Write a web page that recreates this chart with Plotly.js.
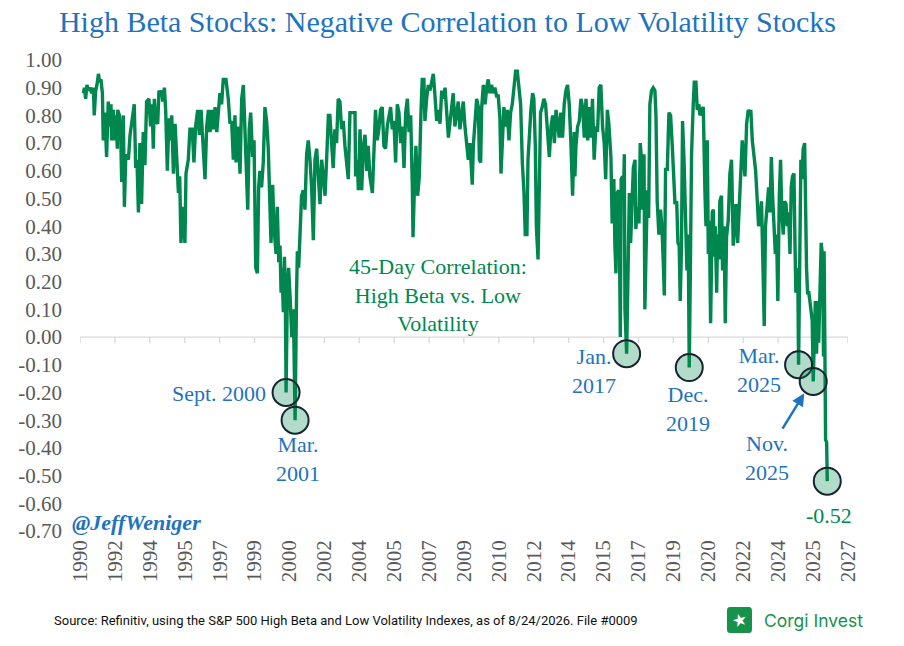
<!DOCTYPE html>
<html>
<head>
<meta charset="utf-8">
<script src="https://cdn.plot.ly/plotly-3.0.1.min.js"></script>
<style>html,body{margin:0;padding:0;background:#fff;}#chart{width:904px;height:646px;}</style>
</head>
<body>
<div id="chart"></div>
<script>
// ---- DATA (dates in decimal years) ----
const dates = [
1991.06,1991.11,1991.17,1991.23,1991.30,1991.38,1991.46,1991.54,1991.58,1991.65,
1991.71,1991.78,1991.84,1991.90,1991.97,1992.01,1992.09,1992.17,1992.25,1992.33,
1992.38,1992.41,1992.49,1992.57,1992.63,1992.68,1992.70,1992.78,1992.84,1992.89,
1992.97,1993.02,1993.08,1993.13,1993.21,1993.29,1993.40,1993.49,1993.56,1993.62,
1993.69,1993.76,1993.84,1993.92,1994.00,1994.08,1994.19,1994.27,1994.34,1994.40,
1994.45,1994.51,1994.61,1994.67,1994.74,1994.80,1994.85,1994.93,1994.99,1995.07,
1995.15,1995.23,1995.28,1995.36,1995.44,1995.52,1995.60,1995.66,1995.72,1995.80,
1995.91,1995.96,1996.07,1996.15,1996.26,1996.34,1996.42,1996.52,1996.60,1996.68,
1996.79,1996.87,1996.95,1997.03,1997.11,1997.19,1997.27,1997.35,1997.43,1997.50,
1997.58,1997.66,1997.74,1997.87,1997.98,1998.06,1998.14,1998.22,1998.30,1998.35,
1998.46,1998.54,1998.62,1998.70,1998.78,1998.86,1998.91,1998.98,1999.05,1999.14,
1999.21,1999.29,1999.37,1999.43,1999.49,1999.57,1999.65,1999.73,1999.81,1999.89,
1999.97,2000.02,2000.10,2000.16,2000.26,2000.32,2000.39,2000.45,2000.50,2000.54,
2000.61,2000.66,2000.70,2000.74,2000.80,2000.86,2000.93,2001.01,2001.09,2001.17,
2001.24,2001.28,2001.34,2001.40,2001.48,2001.56,2001.64,2001.72,2001.80,2001.88,
2001.96,2002.04,2002.12,2002.20,2002.28,2002.36,2002.44,2002.52,2002.60,
2002.68,2002.76,2002.83,2002.91,2002.99,2003.07,2003.15,2003.23,2003.31,
2003.39,2003.47,2003.55,2003.63,2003.71,2003.79,2003.95,2004.03,2004.06,2004.14,
2004.19,2004.27,2004.35,2004.43,2004.51,2004.59,2004.66,2004.74,2004.86,2004.94,
2005.01,2005.09,2005.17,2005.25,2005.33,2005.41,2005.49,2005.57,2005.65,2005.73,
2005.81,2005.89,2005.97,2006.05,2006.13,2006.21,2006.29,2006.37,2006.45,2006.53,
2006.61,2006.69,2006.77,2006.80,2006.86,2006.94,2007.02,2007.10,2007.18,2007.24,
2007.32,2007.37,2007.45,2007.53,2007.61,2007.69,2007.77,2007.85,2007.93,2008.01,
2008.09,2008.17,2008.25,2008.33,2008.41,2008.49,2008.56,
2008.72,2008.80,2008.88,2008.96,2009.04,2009.12,2009.20,2009.28,2009.36,2009.44,
2009.52,2009.57,2009.63,2009.68,2009.76,2009.84,2009.92,2009.97,2010.03,2010.08,
2010.16,2010.24,2010.32,2010.39,2010.47,2010.55,2010.63,2010.71,2010.79,2010.87,
2010.95,2011.00,2011.06,2011.14,2011.22,2011.30,2011.38,2011.46,2011.54,2011.62,
2011.70,2011.78,2011.86,2011.94,2012.02,2012.10,2012.16,2012.24,2012.29,2012.35,
2012.43,2012.51,2012.57,2012.64,2012.69,2012.77,2012.83,2012.89,2012.97,2013.05,
2013.13,2013.21,2013.31,2013.39,2013.47,2013.55,2013.63,2013.71,2013.78,2013.86,
2013.94,2014.02,2014.10,2014.18,2014.26,2014.34,2014.42,2014.50,
2014.53,2014.58,2014.66,2014.74,2014.82,2014.90,2014.98,2015.06,2015.14,2015.22,
2015.30,2015.37,2015.45,2015.53,2015.61,2015.69,2015.77,2015.85,2015.93,2016.00,
2016.08,2016.15,2016.25,2016.31,2016.39,2016.44,2016.49,2016.55,2016.62,2016.66,
2016.70,2016.74,2016.81,2016.86,2016.89,2016.92,2017.00,2017.08,2017.13,2017.19,
2017.24,2017.32,2017.40,2017.44,2017.52,2017.59,2017.65,2017.71,2017.76,2017.83,
2017.87,2017.92,2017.99,2018.05,2018.11,2018.19,2018.27,2018.35,2018.40,2018.46,
2018.54,2018.62,2018.69,2018.75,2018.80,2018.86,2018.94,2019.02,2019.10,2019.18,
2019.24,2019.31,2019.39,2019.45,2019.51,2019.56,2019.62,2019.67,2019.74,2019.82,
2019.88,2019.94,2019.99,2020.05,2020.10,2020.18,2020.23,2020.31,2020.37,2020.45,
2020.50,2020.58,2020.66,2020.74,2020.79,2020.85,2020.90,2020.95,2021.01,2021.09,
2021.14,2021.18,2021.23,2021.30,2021.34,2021.41,2021.45,2021.53,2021.58,2021.65,
2021.71,2021.77,2021.85,2021.93,2022.01,2022.09,2022.14,2022.22,2022.30,2022.38,
2022.46,2022.52,2022.57,2022.65,2022.73,2022.81,2022.89,2022.93,2023.00,2023.08,
2023.16,2023.24,2023.30,2023.36,2023.44,2023.52,2023.57,2023.63,2023.70,2023.78,
2023.84,2023.91,2023.97,2024.03,2024.10,2024.16,2024.22,2024.29,2024.35,2024.41,
2024.48,2024.54,2024.61,2024.67,2024.73,2024.80,2024.86,2024.92,2024.99,2025.04,
2025.08,2025.13,2025.18,2025.21,2025.27,2025.32,2025.37,2025.43,2025.50,2025.54,
2025.59,2025.64,2025.70,2025.75,2025.80,2025.86,2025.91,2025.96,2026.01,2026.07,
2026.12,2026.17,2026.23,2026.29,2026.36,2026.40,2026.43,2026.48,2026.50,2026.55,
2026.58
];
const corr = [
0.88,0.90,0.86,0.91,0.89,0.90,0.88,0.90,0.80,0.89,
0.91,0.95,0.92,0.93,0.88,0.71,0.81,0.65,0.85,0.76,
0.84,0.71,0.82,0.71,0.80,0.68,0.82,0.80,0.74,0.56,
0.80,0.47,0.64,0.66,0.64,0.73,0.79,0.84,0.61,0.64,
0.45,0.70,0.48,0.74,0.62,0.85,0.86,0.76,0.84,0.68,
0.86,0.78,0.77,0.89,0.87,0.89,0.85,0.90,0.82,0.60,
0.79,0.71,0.80,0.59,0.77,0.61,0.52,0.58,0.34,0.47,
0.34,0.59,0.64,0.75,0.75,0.63,0.76,0.82,0.73,0.82,
0.68,0.57,0.76,0.82,0.74,0.82,0.75,0.83,0.74,0.82,
0.88,0.84,0.93,0.93,0.86,0.77,0.78,0.64,0.80,0.63,
0.76,0.59,0.86,0.91,0.70,0.51,0.46,0.75,0.81,0.65,
0.71,0.25,0.23,0.54,0.60,0.54,0.63,0.83,0.78,0.68,
0.51,0.34,0.55,0.40,0.30,0.47,0.27,0.33,0.16,0.25,
0.09,0.29,0.18,-0.20,0.16,0.25,0.15,0.00,0.10,-0.30,
0.16,0.31,0.25,0.40,0.51,0.53,0.46,0.66,0.71,0.64,
0.54,0.35,0.64,0.68,0.59,0.48,0.64,0.58,0.51,
0.65,0.80,0.80,0.70,0.61,0.75,0.70,0.86,0.85,
0.75,0.78,0.69,0.64,0.57,0.81,0.81,0.81,0.58,0.64,
0.53,0.75,0.53,0.69,0.73,0.60,0.69,0.58,0.52,0.69,
0.82,0.71,0.75,0.82,0.83,0.69,0.68,0.76,0.79,0.83,
0.75,0.78,0.63,0.84,0.81,0.70,0.76,0.61,0.81,0.86,
0.74,0.80,0.54,0.36,0.52,0.69,0.51,0.58,0.81,0.93,
0.93,0.78,0.86,0.91,0.89,0.92,0.95,0.87,0.78,0.82,
0.77,0.89,0.86,0.90,0.81,0.72,0.77,
0.88,0.76,0.80,0.85,0.75,0.81,0.85,0.76,0.71,0.64,
0.70,0.60,0.55,0.69,0.76,0.86,0.83,0.64,0.63,0.83,
0.91,0.84,0.90,0.93,0.88,0.91,0.88,0.90,0.87,0.87,
0.79,0.59,0.69,0.83,0.76,0.82,0.71,0.81,0.84,0.89,
0.96,0.96,0.89,0.84,0.63,0.52,0.37,0.37,0.64,0.74,
0.82,0.88,0.86,0.69,0.40,0.28,0.49,0.81,0.83,0.86,
0.84,0.76,0.65,0.76,0.80,0.70,0.82,0.77,0.72,0.81,
0.72,0.84,0.89,0.91,0.84,0.70,0.51,0.74,
0.58,0.69,0.76,0.78,0.86,0.83,0.72,0.86,0.71,0.83,
0.72,0.86,0.64,0.76,0.74,0.90,0.91,0.76,0.70,0.57,
0.82,0.77,0.65,0.41,0.57,0.33,0.23,0.52,0.53,0.31,
0.00,0.57,0.58,0.54,0.66,0.10,-0.06,0.29,0.52,0.34,
0.46,0.61,0.64,0.39,0.47,0.41,0.70,0.64,0.46,0.66,
0.10,0.35,0.53,0.43,0.84,0.89,0.90,0.89,0.80,0.49,
0.37,0.46,0.39,0.27,0.15,0.61,0.60,0.81,0.80,0.69,
0.57,0.48,0.49,0.34,0.33,0.13,0.33,0.78,0.64,0.37,
0.24,0.37,-0.11,0.29,0.66,0.84,0.92,0.92,0.82,0.84,
0.80,0.82,0.83,0.52,0.40,0.71,0.30,0.42,0.05,0.45,
0.46,0.29,0.40,0.16,0.37,0.28,0.49,0.51,0.24,0.40,
0.05,0.36,0.42,0.59,0.64,0.33,0.40,0.48,0.34,0.46,
0.58,0.71,0.66,0.58,0.77,0.82,0.81,0.82,0.71,0.66,
0.60,0.49,0.40,0.42,0.49,0.22,0.04,0.40,0.48,0.54,
0.45,0.65,0.51,0.40,0.30,0.37,0.13,0.51,0.64,0.45,
0.37,0.49,0.48,0.40,0.45,0.30,0.54,0.58,0.59,0.33,
0.16,0.25,0.17,-0.10,0.33,0.64,0.57,0.68,0.70,0.36,
0.25,0.16,0.16,0.13,0.09,0.06,-0.16,-0.01,0.13,-0.06,
0.13,-0.02,0.16,0.34,0.29,-0.07,0.31,0.00,-0.37,-0.38,
-0.52
];
// highlighted lows (dates of circled points)
const highlightDates = [2000.74, 2001.17, 2017.00, 2019.99, 2025.21, 2025.91, 2026.58];
// x-axis ticks (Excel-style date axis)
const xTickVals = [1990.90,1992.57,1994.23,1995.90,1997.57,1999.23,2000.90,2002.57,2004.23,2005.90,2007.57,2009.23,2010.90,2012.57,2014.23,2015.90,2017.57,2019.23,2020.90,2022.57,2024.23,2025.90,2027.57];
const xTickText = ['1990','1992','1994','1995','1997','1999','2000','2002','2004','2005','2007','2009','2010','2012','2014','2015','2017','2019','2020','2022','2024','2025','2027'];
const yTickVals = [1.0,0.9,0.8,0.7,0.6,0.5,0.4,0.3,0.2,0.1,0.0,-0.1,-0.2,-0.3,-0.4,-0.5,-0.6,-0.7];
const yTickText = ['1.00','0.90','0.80','0.70','0.60','0.50','0.40','0.30','0.20','0.10','0.00','-0.10','-0.20','-0.30','-0.40','-0.50','-0.60','-0.70'];

// ---- build ----
const hy = highlightDates.map(d => {
  let best = 0, bd = Infinity;
  dates.forEach((x, i) => { const dd = Math.abs(x - d); if (dd < bd) { bd = dd; best = i; } });
  return corr[best];
});
const hx = highlightDates.slice();
const lastVal = hy[hy.length - 1];

const GREEN = '#00874F', BLUE = '#1E73BE', GRAY = '#595959', AXIS = '#d9d9d9';
const SERIF = 'Liberation Serif, Times New Roman, serif';
const X0 = xTickVals[0], X1 = xTickVals[xTickVals.length - 1];

const traces = [
  { x: dates, y: corr, type: 'scatter', mode: 'lines', line: { color: GREEN, width: 3.4 }, hoverinfo: 'skip', showlegend: false },
  { x: hx, y: hy, type: 'scatter', mode: 'markers', cliponaxis: false, showlegend: false, hoverinfo: 'skip',
    marker: { size: 27, color: 'rgba(0,135,79,0.30)', line: { color: '#16242f', width: 2 } } }
];

const bf = (c, s) => ({ family: SERIF, size: s || 22, color: c });
const annotations = [
  { x: 1999.88, y: -0.202, xref: 'x', yref: 'y', text: 'Sept. 2000', showarrow: false, xanchor: 'right', yanchor: 'middle', font: bf(BLUE) },
  { x: 2001.31, y: -0.44, xref: 'x', yref: 'y', text: 'Mar.<br>2001', showarrow: false, xanchor: 'center', yanchor: 'middle', font: bf(BLUE) },
  { x: 2015.44, y: -0.123, xref: 'x', yref: 'y', text: 'Jan.<br>2017', showarrow: false, xanchor: 'center', yanchor: 'middle', font: bf(BLUE) },
  { x: 2019.93, y: -0.26, xref: 'x', yref: 'y', text: 'Dec.<br>2019', showarrow: false, xanchor: 'center', yanchor: 'middle', font: bf(BLUE) },
  { x: 2023.32, y: -0.119, xref: 'x', yref: 'y', text: 'Mar.<br>2025', showarrow: false, xanchor: 'center', yanchor: 'middle', font: bf(BLUE) },
  { x: 2023.70, y: -0.435, xref: 'x', yref: 'y', text: 'Nov.<br>2025', showarrow: false, xanchor: 'center', yanchor: 'middle', font: bf(BLUE) },
  { x: 2025.48, y: -0.203, ax: 2024.40, ay: -0.336, xref: 'x', yref: 'y', axref: 'x', ayref: 'y', text: '', showarrow: true,
    arrowhead: 2, arrowsize: 1, arrowwidth: 2.5, arrowcolor: BLUE, standoff: 0 },
  { x: 2026.66, y: -0.643, xref: 'x', yref: 'y', text: lastVal.toFixed(2), showarrow: false, xanchor: 'center', yanchor: 'middle', font: bf(GREEN) },
  { x: 2007.99, y: 0.152, xref: 'x', yref: 'y', text: '45-Day Correlation:<br>High Beta vs. Low<br>Volatility', showarrow: false, xanchor: 'center', yanchor: 'middle', align: 'center', font: bf(GREEN) },
  { x: -0.013, y: 0.017, xref: 'paper', yref: 'paper', text: '<b><i>@JeffWeniger</i></b>', showarrow: false, xanchor: 'left', yanchor: 'middle', font: bf(BLUE, 22) },
  { x: -0.0365, y: -0.191, xref: 'paper', yref: 'paper', text: 'Source: Refinitiv, using the S&amp;P 500 High Beta and Low Volatility Indexes, as of 8/24/2026. File #0009',
    showarrow: false, xanchor: 'left', yanchor: 'middle', font: { family: 'Roboto, Arial, sans-serif', size: 13, color: '#111111' } },
  { x: 0.888, y: -0.189, xref: 'paper', yref: 'paper', text: 'Corgi Invest', showarrow: false, xanchor: 'left', yanchor: 'middle',
    font: { family: 'Inter, Roboto, sans-serif', size: 17.5, color: '#16924A' } },
  { x: 0.8587, y: -0.189, xref: 'paper', yref: 'paper', text: '★', showarrow: false, xanchor: 'center', yanchor: 'middle', textangle: -15,
    font: { family: 'DejaVu Sans', size: 17, color: '#ffffff' } }
];

const shapes = [
  // axis line crossing at 0
  { type: 'line', xref: 'x', yref: 'y', x0: X0, x1: X1, y0: 0, y1: 0, line: { color: AXIS, width: 1.3 }, layer: 'below' },
  { type: 'path', xref: 'paper', yref: 'paper', fillcolor: '#16924A', line: { width: 0 },
    path: 'M 0.8464 -0.2166 L 0.8710 -0.2166 Q 0.8750 -0.2166 0.8750 -0.2081 L 0.8750 -0.1699 Q 0.8750 -0.1614 0.8710 -0.1614 L 0.8464 -0.1614 Q 0.8424 -0.1614 0.8424 -0.1699 L 0.8424 -0.2081 Q 0.8424 -0.2166 0.8464 -0.2166 Z' }
];
// tick marks hanging below the zero line
xTickVals.forEach(v => shapes.push({ type: 'line', xref: 'x', yref: 'y', x0: v, x1: v, y0: 0, y1: -0.022, line: { color: AXIS, width: 1.3 }, layer: 'below' }));

const layout = {
  width: 904, height: 646,
  margin: { l: 80, r: 56, t: 60, b: 115 },
  paper_bgcolor: '#ffffff', plot_bgcolor: '#ffffff',
  showlegend: false,
  title: { text: 'High Beta Stocks: Negative Correlation to Low Volatility Stocks', xref: 'container', yref: 'container',
    x: 0.495, y: 0.966, xanchor: 'center', yanchor: 'middle', font: { family: SERIF, size: 30, color: BLUE } },
  xaxis: { range: [X0, X1], tickmode: 'array', tickvals: xTickVals, ticktext: xTickText,
    tickangle: -90, tickfont: { family: SERIF, size: 21, color: GRAY }, showgrid: false, zeroline: false, showline: false,
    ticks: '', ticklabelstandoff: 4, fixedrange: true },
  yaxis: { range: [-0.7, 1.0], tickmode: 'array', tickvals: yTickVals, ticktext: yTickText,
    tickfont: { family: SERIF, size: 21, color: GRAY }, showgrid: false, zeroline: false, showline: false,
    ticks: '', ticklabelstandoff: 17, fixedrange: true },
  annotations: annotations,
  shapes: shapes
};

Plotly.newPlot('chart', traces, layout, { displayModeBar: false, staticPlot: true });
</script>
</body>
</html>
